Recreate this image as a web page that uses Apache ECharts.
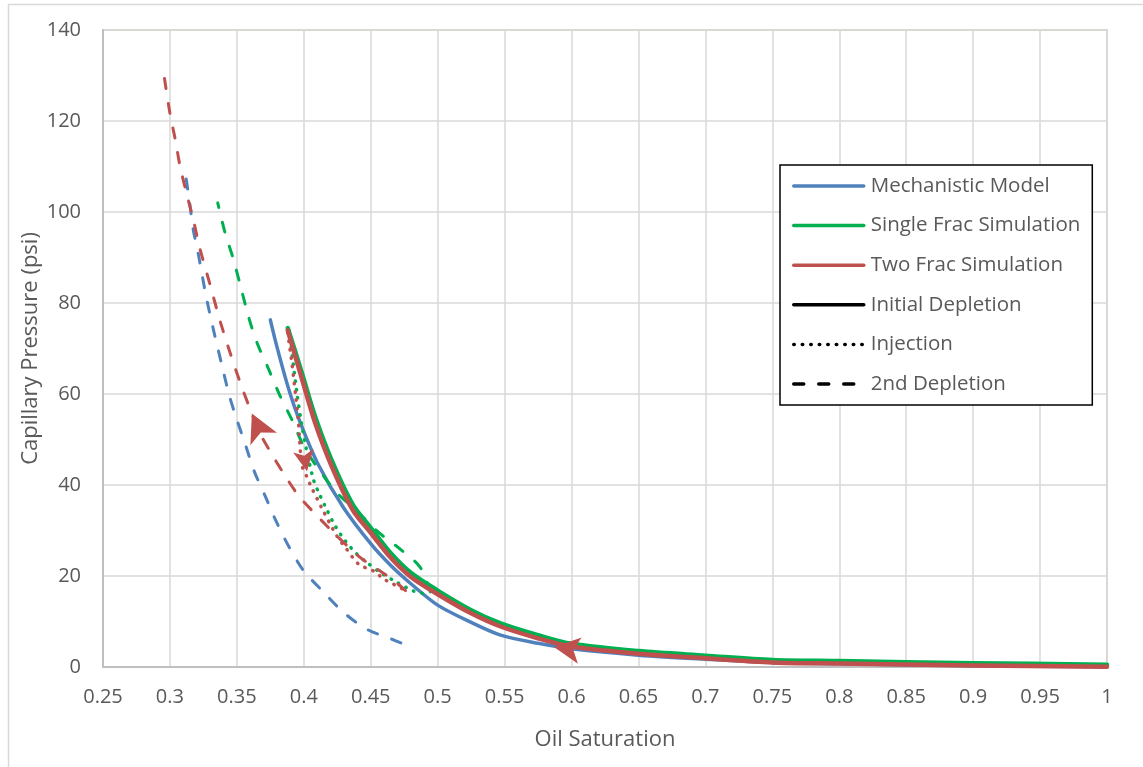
<!DOCTYPE html>
<html>
<head>
<meta charset="utf-8">
<title>Capillary Pressure vs Oil Saturation</title>
<script src="https://cdn.jsdelivr.net/npm/echarts@6/dist/echarts.min.js"></script>
<style>
  html, body { margin: 0; padding: 0; background: #ffffff; }
  #chart { width: 1143px; height: 767px; }
</style>
</head>
<body>
<div id="chart"></div>
<script>
// ---- Axis ticks ----
const xTicks = { min: 0.25, max: 1, step: 0.05 };
const yTicks = { min: 0, max: 140, step: 20 };

// ---- Mechanistic Model ----
const mechInitS = [0.375, 0.38, 0.3886, 0.397, 0.411, 0.4297, 0.45, 0.465, 0.48, 0.50, 0.525, 0.547, 0.575, 0.60, 0.65, 0.70, 0.75, 0.80, 0.90, 1.0];
const mechInitP = [76.3, 70.3, 61.2, 54.0, 44.4, 35.0, 27.1, 22.3, 18.3, 13.6, 9.8, 7.0, 5.2, 4.0, 2.6, 1.7, 1.0, 0.7, 0.3, 0.05];
const mechDep2S = [0.4725, 0.4658, 0.447, 0.4297, 0.415, 0.40, 0.3886, 0.3786, 0.372, 0.363, 0.357, 0.35, 0.3445, 0.3387, 0.333, 0.327, 0.3213, 0.3175, 0.3145, 0.311];
const mechDep2P = [5.3, 6.1, 8.3, 12, 16.4, 21.1, 26.6, 32.5, 37, 43, 48.3, 54.4, 59.5, 66.5, 73.5, 81.5, 90.6, 96, 102.5, 109.5];

// ---- Single Frac Simulation ----
const singleInitS = [0.388, 0.3986, 0.4085, 0.421, 0.4366, 0.45, 0.465, 0.48, 0.50, 0.525, 0.547, 0.575, 0.60, 0.65, 0.70, 0.75, 0.80, 0.90, 1.0];
const singleInitP = [74.5, 64.6, 55, 45.3, 35.7, 30.6, 25.0, 20.7, 16.8, 12.5, 9.6, 7.0, 5.1, 3.5, 2.5, 1.55, 1.3, 0.85, 0.5];
const singleInjS = [0.389, 0.392, 0.395, 0.398, 0.4023, 0.4073, 0.411, 0.417, 0.4235, 0.431, 0.4397, 0.447, 0.457, 0.4696, 0.482, 0.492];
const singleInjP = [74, 67, 60, 54, 47.3, 41.1, 38.4, 34.7, 31, 27.7, 24.8, 23, 20.8, 18.6, 16.7, 16];
const singleDep2S = [0.4945, 0.487, 0.472, 0.4546, 0.4397, 0.4247, 0.411, 0.3998, 0.391, 0.3824, 0.3738, 0.365, 0.3587, 0.3525, 0.347, 0.3412, 0.3357];
const singleDep2P = [16.5, 21.9, 25.9, 29.9, 34.3, 38.3, 43.5, 48.6, 54.4, 59.5, 65.4, 71.3, 77, 84, 90, 95.4, 102];

// ---- Two Frac Simulation ----
const twoInitS = [0.388, 0.3986, 0.4085, 0.421, 0.4366, 0.45, 0.465, 0.48, 0.50, 0.525, 0.547, 0.575, 0.60, 0.65, 0.70, 0.75, 0.80, 0.90, 1.0];
const twoInitP = [74, 63.3, 53.6, 44, 34.5, 29.5, 24, 19.8, 16, 11.8, 8.9, 6.3, 4.5, 2.9, 1.9, 1.0, 0.75, 0.35, 0.05];
const twoInjS = [0.388, 0.391, 0.394, 0.396, 0.3986, 0.4023, 0.406, 0.4098, 0.4135, 0.4247, 0.432, 0.441, 0.452, 0.46, 0.467, 0.476];
const twoInjP = [73.5, 67, 59.5, 53.7, 44.4, 41.8, 39.3, 37.1, 34.9, 28.8, 25.9, 22.6, 21.1, 19.3, 18.2, 16.8];
const twoDep2S = [0.476, 0.466, 0.457, 0.448, 0.44, 0.4247, 0.41, 0.396, 0.385, 0.375, 0.367, 0.36, 0.3525, 0.345, 0.3375, 0.33, 0.322, 0.3175, 0.3125, 0.3076, 0.304, 0.3, 0.2956];
const twoDep2P = [16.8, 19.3, 21.1, 22.8, 24.6, 28.8, 33.2, 37.7, 42.5, 47.3, 51.5, 56.6, 62.5, 69, 76, 84, 92.4, 98.3, 104, 110, 115.9, 121.7, 130];

// ---- Direction arrows on the Two Frac path (tip positions) ----
const arrowS = [0.5869, 0.3612, 0.4024];
const arrowP = [4.4, 55.7, 43.0];

// ---- Legend entries ----
const modelNames = ['Mechanistic Model', 'Single Frac Simulation', 'Two Frac Simulation'];
const stageNames = ['Initial Depletion', 'Injection', '2nd Depletion'];

const COLORS = { mech: '#4f81bd', single: '#00b050', two: '#c0504d' };
const TEXT = '#595959';
const FONT = '"Open Sans", "DejaVu Sans", sans-serif';

const pairs = (xs, ys) => xs.map((x, i) => [x, ys[i]]);
const DOTTED = [0.5, 8];
const DASHED = [10, 15];

function curve(name, color, xs, ys, width, type, extra) {
  return Object.assign({
    name: name,
    type: 'line',
    data: pairs(xs, ys),
    showSymbol: false,
    symbol: 'none',
    smooth: 0.3,
    silent: true,
    lineStyle: { color: color, width: width, type: type, cap: 'round', join: 'round' },
    itemStyle: { color: color }
  }, extra || {});
}

function legendOnly(name, color, type) {
  return {
    name: name, type: 'line', data: [], symbol: 'none',
    lineStyle: { color: color, width: 3.5, type: type, cap: 'round' },
    itemStyle: { color: color }
  };
}

const arrowMarks = {
  silent: true,
  label: { show: false },
  itemStyle: { color: COLORS.two },
  data: [
    { coord: [arrowS[0], arrowP[0]], symbol: 'arrow', symbolSize: [20, 26], symbolRotate: 82 },
    { coord: [arrowS[1], arrowP[1]], symbol: 'arrow', symbolSize: [22, 28], symbolRotate: 25 },
    { coord: [arrowS[2], arrowP[2]], symbol: 'arrow', symbolSize: [15.5, 21], symbolRotate: 190 }
  ]
};

const series = [
  legendOnly(modelNames[0], COLORS.mech, 'solid'),
  legendOnly(modelNames[1], COLORS.single, 'solid'),
  legendOnly(modelNames[2], COLORS.two, 'solid'),
  legendOnly(stageNames[0], '#000000', 'solid'),
  legendOnly(stageNames[1], '#000000', DOTTED),
  legendOnly(stageNames[2], '#000000', DASHED),

  curve('mech-dep2', COLORS.mech, mechDep2S, mechDep2P, 3, DASHED),
  curve('mech-init', COLORS.mech, mechInitS, mechInitP, 3.5, 'solid'),
  curve('single-inj', COLORS.single, singleInjS, singleInjP, 3.5, DOTTED),
  curve('single-dep2', COLORS.single, singleDep2S, singleDep2P, 3, DASHED),
  curve('single-init', COLORS.single, singleInitS, singleInitP, 4.5, 'solid'),
  curve('two-inj', COLORS.two, twoInjS, twoInjP, 3.5, DOTTED),
  curve('two-dep2', COLORS.two, twoDep2S, twoDep2P, 3, DASHED),
  curve('two-init', COLORS.two, twoInitS, twoInitP, 4.5, 'solid', { markPoint: arrowMarks, z: 3 })
];

const chart = echarts.init(document.getElementById('chart'), null, { renderer: 'canvas' });

chart.setOption({
  animation: false,
  backgroundColor: '#ffffff',
  textStyle: { fontFamily: FONT },
  graphic: [{
    type: 'rect', silent: true, z: -10,
    shape: { x: 8.5, y: 4.5, width: 1200, height: 800 },
    style: { fill: 'none', stroke: '#d9d9d9', lineWidth: 1.5 }
  }],
  grid: {
    left: 103, right: 36, top: 30, bottom: 100,
    show: true, borderColor: '#dbd9c4', borderWidth: 2, backgroundColor: 'transparent'
  },
  legend: {
    data: modelNames.concat(stageNames),
    orient: 'vertical',
    left: 780, top: 165,
    padding: [10, 12, 10, 12],
    itemWidth: 70, itemHeight: 14, itemGap: 17.6,
    backgroundColor: '#ffffff',
    borderColor: '#000000', borderWidth: 1.5,
    selectedMode: false,
    lineStyle: { width: 3.5 },
    itemStyle: { opacity: 0 },
    textStyle: { color: TEXT, fontSize: 20.5, lineHeight: 22, fontFamily: FONT, padding: [0, 0, 0, 2] }
  },
  xAxis: {
    type: 'value',
    min: xTicks.min, max: xTicks.max, interval: xTicks.step,
    name: 'Oil Saturation', nameLocation: 'middle', nameGap: 62, nameMoveOverlap: false,
    nameTextStyle: { color: TEXT, fontSize: 22, fontFamily: FONT },
    axisLine: { show: true, onZero: false, lineStyle: { color: '#bfbfbf', width: 2 } },
    axisTick: { show: false },
    axisLabel: { color: TEXT, fontSize: 20, margin: 20, fontFamily: FONT,
      formatter: v => String(+v.toFixed(2)) },
    splitLine: { show: true, lineStyle: { color: '#d9d9d9', width: 1.5 } }
  },
  yAxis: {
    type: 'value',
    min: yTicks.min, max: yTicks.max, interval: yTicks.step,
    name: 'Capillary Pressure (psi)', nameLocation: 'middle', nameGap: 61, nameMoveOverlap: false,
    nameTextStyle: { color: TEXT, fontSize: 22, fontFamily: FONT },
    axisLine: { show: true, lineStyle: { color: '#bfbfbf', width: 2 } },
    axisTick: { show: false },
    axisLabel: { color: TEXT, fontSize: 20, margin: 22, fontFamily: FONT },
    splitLine: { show: true, lineStyle: { color: '#d9d9d9', width: 1.5 } }
  },
  series: series
});
</script>
</body>
</html>
